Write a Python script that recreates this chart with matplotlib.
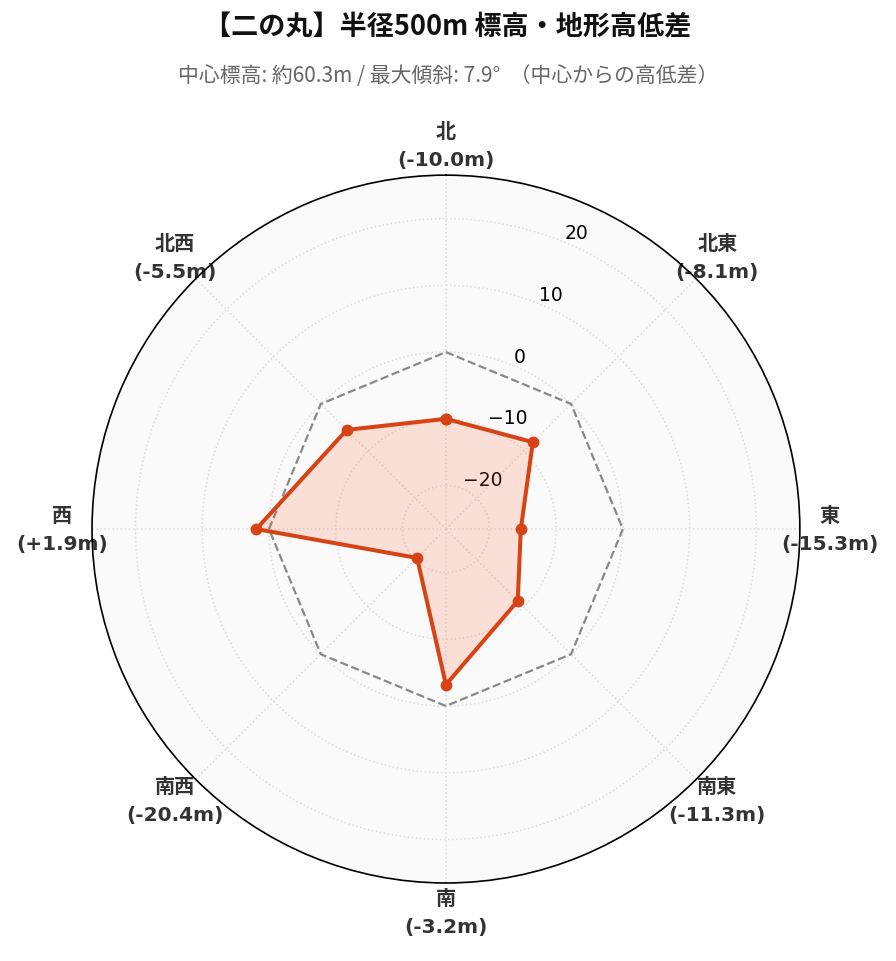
import matplotlib
matplotlib.use("Agg")
import matplotlib.pyplot as plt
import numpy as np

# 方位ごとの高低差 (m)
directions = ["北", "北東", "東", "南東", "南", "南西", "西", "北西"]
diffs = [-10.0, -8.1, -15.3, -11.3, -3.2, -20.4, 1.9, -5.5]
rticks = [-20, -10, 0, 10, 20]

title = "【二の丸】半径500m 標高・地形高低差"
subtitle = "中心標高: 約60.3m / 最大傾斜: 7.9°  （中心からの高低差）"

plt.rcParams['font.family'] = ['DejaVu Sans', 'Noto Sans CJK JP']

n = len(directions)
angles = np.linspace(0, 2 * np.pi, n, endpoint=False)
ang_c = np.concatenate([angles, angles[:1]])
vals_c = np.concatenate([diffs, diffs[:1]])
zero_c = np.zeros_like(ang_c)

fig = plt.figure(figsize=(8.96, 9.62), dpi=100)
ax = fig.add_axes([0.1027, 0.081, 0.79, 0.736], projection='polar')
ax.set_theta_zero_location('N')
ax.set_theta_direction(-1)
ax.set_facecolor('#fafafa')

lim = max(abs(v) for v in diffs) * 1.3
ax.set_ylim(-lim, lim)
ax.set_yticks(rticks)
ax.set_rlabel_position(22.5)
ax.tick_params(axis='y', labelsize=13.5, colors='black')

ax.plot(ang_c, zero_c, color='#888888', linestyle='--', linewidth=1.6, zorder=2)
ax.fill(ang_c, vals_c, color='#ff5722', alpha=0.16, zorder=3, linewidth=0)
ax.plot(ang_c, vals_c, color='#d84315', linewidth=2.9, marker='o',
        markersize=7.5, zorder=4)

labels = []
for d, v in zip(directions, diffs):
    labels.append(f"{d}\n({v:+.1f}m)")
ax.set_xticks(angles)
ax.set_xticklabels(labels, fontsize=14.5, fontweight='bold', color='#333333',
                   linespacing=1.6)
ax.tick_params(axis='x', pad=11)

ax.grid(True, color='#dddddd', linestyle=':', linewidth=1.1)
ax.spines['polar'].set_color('black')
ax.spines['polar'].set_linewidth(1.2)
ax.spines['polar'].set_zorder(5)

fig.text(0.5, 0.971, title, ha='center', va='center', fontsize=19.5,
         fontweight='bold', family='Noto Sans CJK JP', color='#111111')
fig.text(0.5, 0.921, subtitle, ha='center', va='center', fontsize=15,
         family='Noto Sans CJK JP', color='#666666')

fig.savefig("out.png", dpi=100, facecolor='white')
